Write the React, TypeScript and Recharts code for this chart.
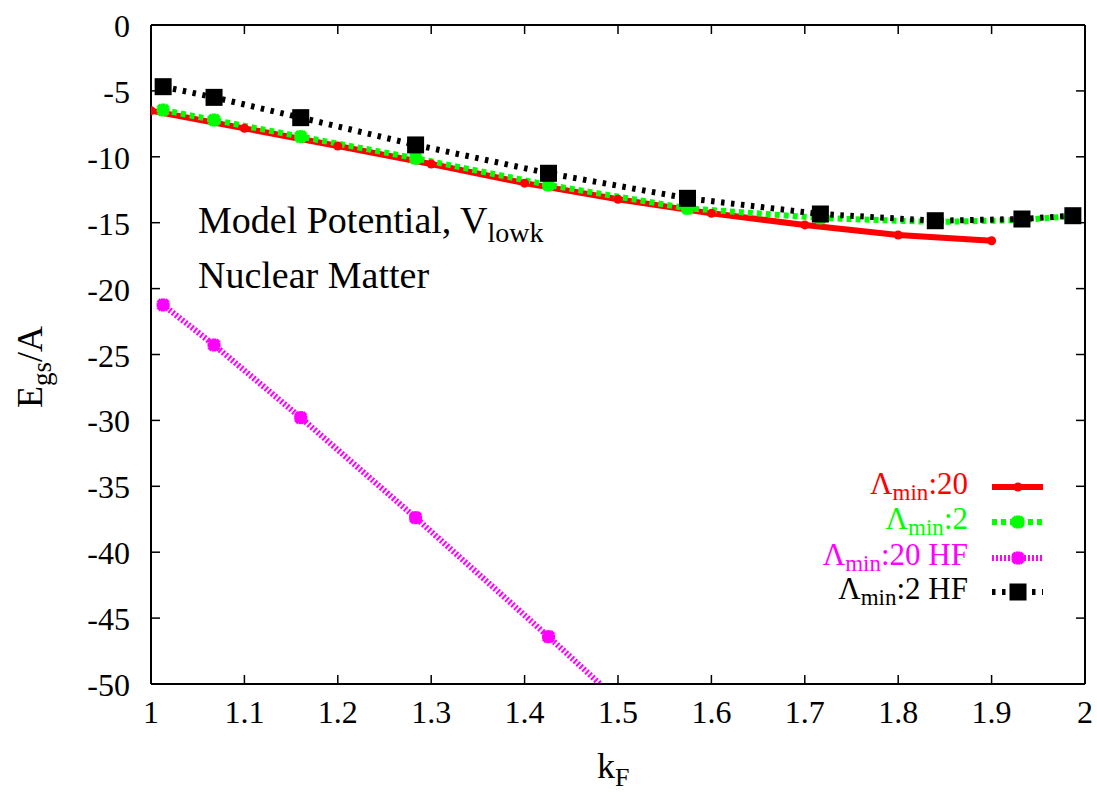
import React from 'react';
import { LineChart, Line, XAxis, YAxis, Legend, Customized } from 'recharts';

const W = 1097;
const H = 792;
const FONT = '"Liberation Serif", "Times New Roman", Times, serif';

// uniform k grid for Lambda_min:20
const kUniform = [1.0, 1.1, 1.2, 1.3, 1.4, 1.5, 1.6, 1.7, 1.8, 1.9];
// mesh k points for the other series
const kMesh = [1.013, 1.0675, 1.1603, 1.2833, 1.4256, 1.5744, 1.7167, 1.8397, 1.9325, 1.987];

const lam20 = [-6.5, -7.84, -9.18, -10.55, -12.0, -13.22, -14.29, -15.17, -15.93, -16.37];
const lam2 = [-6.45, -7.21, -8.47, -10.11, -12.14, -13.91, -14.64, -14.95, -14.8, -14.49];
const lam20HF = [-21.24, -24.28, -29.79, -37.38, -46.41, -56.1];
const lam2HF = [-4.68, -5.49, -7.03, -9.1, -11.25, -13.15, -14.34, -14.85, -14.72, -14.47];

const xTicks = [1, 1.1, 1.2, 1.3, 1.4, 1.5, 1.6, 1.7, 1.8, 1.9, 2];
const yTicks = [0, -5, -10, -15, -20, -25, -30, -35, -40, -45, -50];

const legendSubs = ['min', 'min', 'min', 'min'];
const legendRests = [':20', ':2', ':20 HF', ':2 HF'];
const colors = ['#ff0000', '#00ff00', '#ff00ff', '#000000'];
const dashes = [undefined, '5 4', '2 2', '3.5 6.5'];
const markers = ['circle', 'star', 'star', 'square'];

const toPts = (ks: number[], vs: number[]) => vs.map((v, i) => ({ k: ks[i], v }));

const redData = toPts(kUniform, lam20);
const greenData = toPts(kMesh, lam2);
const magentaData = toPts(kMesh, lam20HF);
const blackData = toPts(kMesh, lam2HF);

const TICK_SIZE = 10;
const TICK_MARGIN = 14;

function Marker({ type, cx, cy, color }: { type: string; cx: number; cy: number; color: string }) {
  if (type === 'circle') return <circle cx={cx} cy={cy} r={4.5} fill={color} />;
  if (type === 'square') return <rect x={cx - 8.5} y={cy - 8.5} width={17} height={17} fill={color} />;
  const a = 6.5;
  const d = 5;
  return (
    <g stroke={color} strokeWidth={4.5}>
      <line x1={cx - a} y1={cy} x2={cx + a} y2={cy} />
      <line x1={cx} y1={cy - a} x2={cx} y2={cy + a} />
      <line x1={cx - d} y1={cy - d} x2={cx + d} y2={cy + d} />
      <line x1={cx - d} y1={cy + d} x2={cx + d} y2={cy - d} />
    </g>
  );
}

const makeDot = (type: string, color: string) => (props: any) => {
  const { cx, cy, index } = props;
  if (cx == null || cy == null || Number.isNaN(cx) || Number.isNaN(cy)) return <g key={`e-${index}`} />;
  return <Marker key={`m-${type}-${index}`} type={type} cx={cx} cy={cy} color={color} />;
};

const fmtX = (v: number) => String(Math.round(v * 10) / 10);

function XTick(props: any) {
  const { x, y, payload } = props;
  const axisY = y - TICK_SIZE - TICK_MARGIN;
  return (
    <g>
      <line x1={x} x2={x} y1={axisY} y2={axisY - 9} stroke="#000" strokeWidth={1.5} />
      <text x={x} y={axisY + 39} textAnchor="middle" fontFamily={FONT} fontSize={32} fill="#000">
        {fmtX(payload.value)}
      </text>
    </g>
  );
}

function YTick(props: any) {
  const { x, y, payload } = props;
  const axisX = x + TICK_SIZE + TICK_MARGIN;
  return (
    <g>
      <line x1={axisX} x2={axisX + 9} y1={y} y2={y} stroke="#000" strokeWidth={1.5} />
      <text x={axisX - 21} y={y + 12} textAnchor="end" fontFamily={FONT} fontSize={32} fill="#000">
        {String(payload.value)}
      </text>
    </g>
  );
}

const rowYs = [487, 522, 558, 592];

function LegendContent() {
  return (
    <svg width={W} height={H} style={{ position: 'absolute', left: 0, top: 0 }}>
      {colors.map((c, i) => {
        const y = rowYs[i];
        return (
          <g key={i}>
            <text x={968} y={y + 7} textAnchor="end" fontFamily={FONT} fontSize={31} fill={c}>
              Λ<tspan dy={6} fontSize={23}>{legendSubs[i]}</tspan>
              <tspan dy={-6}>{legendRests[i]}</tspan>
            </text>
            <line x1={992} x2={1043} y1={y} y2={y} stroke={c} strokeWidth={6} strokeDasharray={dashes[i]} />
            <Marker type={markers[i]} cx={1018} cy={y} color={c} />
          </g>
        );
      })}
    </svg>
  );
}

function Annotations() {
  return (
    <g fontFamily={FONT} fill="#000">
      <text x={198} y={233} fontSize={38}>
        Model Potential, V<tspan dy={9} fontSize={28}>lowk</tspan>
      </text>
      <text x={198} y={288} fontSize={38}>
        Nuclear Matter
      </text>
      <text transform="translate(42,408) rotate(-90)" fontSize={36}>
        E<tspan dy={9} fontSize={27}>gs</tspan>
        <tspan dy={-9}>/A</tspan>
      </text>
      <text x={597} y={778} fontSize={36}>
        k<tspan dy={8} fontSize={26}>F</tspan>
      </text>
    </g>
  );
}

export default function App() {
  return (
    <div style={{ position: 'absolute', left: 0, top: 0, width: W, height: H, background: '#fff' }}>
      <LineChart width={W} height={H} margin={{ top: 25, right: 12, bottom: 48, left: 0 }}>
        <XAxis
          xAxisId="x"
          dataKey="k"
          type="number"
          domain={[1, 2]}
          ticks={xTicks}
          allowDataOverflow
          height={60}
          tickLine={false}
          tickSize={TICK_SIZE}
          tickMargin={TICK_MARGIN}
          axisLine={{ stroke: '#000', strokeWidth: 2 }}
          tick={<XTick />}
          interval={0}
        />
        <XAxis
          xAxisId="top"
          orientation="top"
          mirror
          dataKey="k"
          type="number"
          domain={[1, 2]}
          ticks={xTicks}
          allowDataOverflow
          tickSize={9}
          tickFormatter={() => ''}
          axisLine={{ stroke: '#000', strokeWidth: 2 }}
          tickLine={{ stroke: '#000', strokeWidth: 1.5 }}
          interval={0}
        />
        <YAxis
          yAxisId="y"
          type="number"
          domain={[-50, 0]}
          ticks={yTicks}
          allowDataOverflow
          width={151}
          tickLine={false}
          tickSize={TICK_SIZE}
          tickMargin={TICK_MARGIN}
          axisLine={{ stroke: '#000', strokeWidth: 2 }}
          tick={<YTick />}
          interval={0}
        />
        <YAxis
          yAxisId="right"
          orientation="right"
          mirror
          type="number"
          domain={[-50, 0]}
          ticks={yTicks}
          allowDataOverflow
          tickSize={9}
          tickFormatter={() => ''}
          axisLine={{ stroke: '#000', strokeWidth: 2 }}
          tickLine={{ stroke: '#000', strokeWidth: 1.5 }}
          interval={0}
        />
        <Line
          xAxisId="x"
          yAxisId="y"
          data={redData}
          dataKey="v"
          type="linear"
          stroke={colors[0]}
          strokeWidth={6}
          dot={makeDot(markers[0], colors[0])}
          activeDot={false}
          isAnimationActive={false}
          legendType="none"
        />
        <Line
          xAxisId="x"
          yAxisId="y"
          data={greenData}
          dataKey="v"
          type="linear"
          stroke={colors[1]}
          strokeWidth={6}
          strokeDasharray={dashes[1]}
          dot={makeDot(markers[1], colors[1])}
          activeDot={false}
          isAnimationActive={false}
          legendType="none"
        />
        <Line
          xAxisId="x"
          yAxisId="y"
          data={magentaData}
          dataKey="v"
          type="linear"
          stroke={colors[2]}
          strokeWidth={6}
          strokeDasharray={dashes[2]}
          dot={makeDot(markers[2], colors[2])}
          activeDot={false}
          isAnimationActive={false}
          legendType="none"
        />
        <Line
          xAxisId="x"
          yAxisId="y"
          data={blackData}
          dataKey="v"
          type="linear"
          stroke={colors[3]}
          strokeWidth={6}
          strokeDasharray={dashes[3]}
          dot={makeDot(markers[3], colors[3])}
          activeDot={false}
          isAnimationActive={false}
          legendType="none"
        />
        <Customized component={Annotations} />
        <Legend
          layout="horizontal"
          verticalAlign="middle"
          align="center"
          wrapperStyle={{ position: 'absolute', left: 0, top: 0, width: W, height: H, pointerEvents: 'none' }}
          content={<LegendContent />}
        />
      </LineChart>
    </div>
  );
}
